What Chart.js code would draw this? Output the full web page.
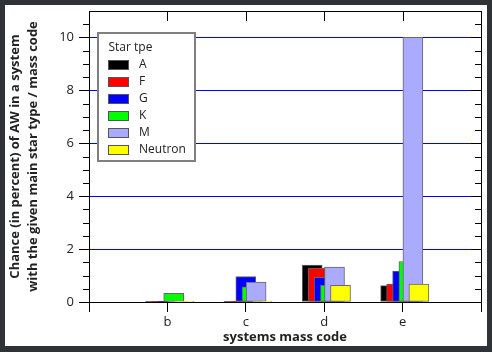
<!DOCTYPE html>
<html><head><meta charset="utf-8">
<script src="https://cdn.jsdelivr.net/npm/chart.js@4.4.0/dist/chart.umd.min.js"></script>
<style>
html,body{margin:0;padding:0;background:#2f3337;width:492px;height:352px;overflow:hidden}
#wrap{position:absolute;left:5px;top:5px;width:482px;height:341px;background:#fff}
canvas{display:block}
</style></head><body>
<div id="wrap"><canvas id="c" width="482" height="341"></canvas></div>
<script>
// ---- data ----
const categories = ['b', 'c', 'd', 'e'];
const seriesNames = ['A', 'F', 'G', 'K', 'M', 'Neutron'];
const valuesA = [0.03, 0.03, 1.40, 0.62];
const valuesF = [0.03, 0.03, 1.28, 0.68];
const valuesG = [0.03, 0.96, 0.93, 1.17];
const valuesK = [0.33, 0.57, 0.63, 1.53];
const valuesM = [0.03, 0.75, 1.32, 10.0];
const valuesNeutron = [0.03, 0.03, 0.63, 0.68];
const yTickValues = [0, 2, 4, 6, 8, 10];
const legendTitle = 'Star tpe';
const xTitle = 'systems mass code';
const yTitle = ['Chance (in percent) of AW in a system', 'with the given main star type / mass code'];

// ---- styles ----
const seriesValues = [valuesA, valuesF, valuesG, valuesK, valuesM, valuesNeutron];
const seriesColors = ['#000000', '#ff0000', '#0000ff', '#00ff00', '#aaaaff', '#ffff00'];
const seriesShiftPx = [-12, -6, 0, 6.3, 10.3, 16.3];
const FONT = "'Open Sans', 'Noto Sans', sans-serif";

const xLabels = [''].concat(categories, ['']);
const datasets = seriesNames.map((name, i) => ({
  label: name,
  data: [null].concat(seriesValues[i], [null]),
  backgroundColor: seriesColors[i],
  borderColor: '#666666',
  borderWidth: 1,
  borderSkipped: false,
  grouped: false,
  barThickness: 20,
  order: seriesNames.length - i,
  xShift: seriesShiftPx[i]
}));

const shiftPlugin = {
  id: 'shift',
  afterDatasetsUpdate(chart) {
    chart.data.datasets.forEach((ds, i) => {
      const meta = chart.getDatasetMeta(i);
      meta.data.forEach(el => { el.x += ds.xShift || 0; });
    });
  }
};

const framePlugin = {
  id: 'frame',
  afterDraw(chart) {
    const ctx = chart.ctx, a = chart.chartArea;
    const xs = chart.scales.x, ys = chart.scales.y;
    const L = a.left, R = a.right, T = a.top, B = a.bottom;
    const al = v => Math.round(v) + 0.5;
    ctx.save();
    ctx.strokeStyle = '#000';
    ctx.lineWidth = 1;
    ctx.beginPath();
    ctx.moveTo(L, al(T)); ctx.lineTo(R + 0.5, al(T));
    ctx.moveTo(al(R), T); ctx.lineTo(al(R), B);
    for (let i = 1; i <= categories.length; i++) {
      const x = al(xs.getPixelForTick(i));
      ctx.moveTo(x, T); ctx.lineTo(x, T + 10);
    }
    for (let k = 1; k < 22; k++) {
      const v = k * 0.5;
      const y = al(ys.getPixelForValue(v));
      if (yTickValues.includes(v)) {
        ctx.moveTo(R - 10, y); ctx.lineTo(R, y);
      } else {
        ctx.moveTo(L - 6, y); ctx.lineTo(L, y);
        ctx.moveTo(R - 6, y); ctx.lineTo(R, y);
      }
    }
    ctx.stroke();

    // legend
    const bx = L + 9, by = T + 22, bw = 97, bh = 128;
    ctx.fillStyle = '#fff';
    ctx.fillRect(bx, by, bw, bh);
    ctx.strokeStyle = '#808080';
    ctx.lineWidth = 2;
    ctx.strokeRect(bx, by, bw, bh);
    ctx.font = '12px ' + FONT;
    ctx.fillStyle = '#222';
    ctx.textBaseline = 'middle';
    ctx.textAlign = 'left';
    ctx.fillText(legendTitle, bx + 10.5, by + 14.5);
    ctx.lineWidth = 1;
    ctx.strokeStyle = '#555';
    seriesNames.forEach((n, i) => {
      const cy = by + 31.5 + i * 17;
      ctx.fillStyle = seriesColors[i];
      ctx.fillRect(bx + 10, Math.round(cy - 5), 21, 10);
      ctx.strokeRect(bx + 10.5, Math.round(cy - 5) + 0.5, 20, 9);
      ctx.fillStyle = '#222';
      ctx.fillText(n, bx + 41, cy);
    });
    ctx.restore();
  }
};

new Chart(document.getElementById('c'), {
  type: 'bar',
  data: { labels: xLabels, datasets },
  options: {
    responsive: false,
    animation: false,
    devicePixelRatio: 1,
    layout: { padding: { top: 6, right: 6, left: 0, bottom: 0 } },
    plugins: { legend: { display: false }, tooltip: { enabled: false } },
    scales: {
      x: {
        type: 'category',
        offset: false,
        grid: { offset: false, drawOnChartArea: false, tickLength: 10, color: '#000', tickColor: '#000' },
        border: { color: '#000', width: 1 },
        ticks: { autoSkip: false, maxRotation: 0, padding: 2, color: '#222', font: { family: FONT, size: 13 } },
        title: { display: true, text: xTitle, color: '#222', font: { family: FONT, size: 13, weight: 'bold', lineHeight: 1.2 }, padding: { top: 0, bottom: 1 } },
        afterFit: s => { s.height = 44; s.paddingLeft = 0; s.paddingRight = 0; }
      },
      y: {
        min: 0, max: 11,
        ticks: { stepSize: 2, includeBounds: false, padding: 5, color: '#222', font: { family: FONT, size: 13 },
          callback: v => yTickValues.includes(v) ? String(v) : '' },
        grid: { color: c => (c.tick && c.tick.value > 0 && yTickValues.includes(c.tick.value)) ? '#0000ff' : 'rgba(0,0,0,0)', tickColor: '#000', tickLength: 10, lineWidth: 1 },
        border: { color: '#000', width: 1 },
        title: { display: true, text: yTitle, color: '#222', font: { family: FONT, size: 13, weight: 'bold', lineHeight: 1.385 }, padding: { top: 1.3, bottom: 0 } },
        afterFit: s => { s.width = 84; s.paddingTop = 0; s.paddingBottom = 0; }
      }
    }
  },
  plugins: [shiftPlugin, framePlugin]
});
</script>
</body></html>
